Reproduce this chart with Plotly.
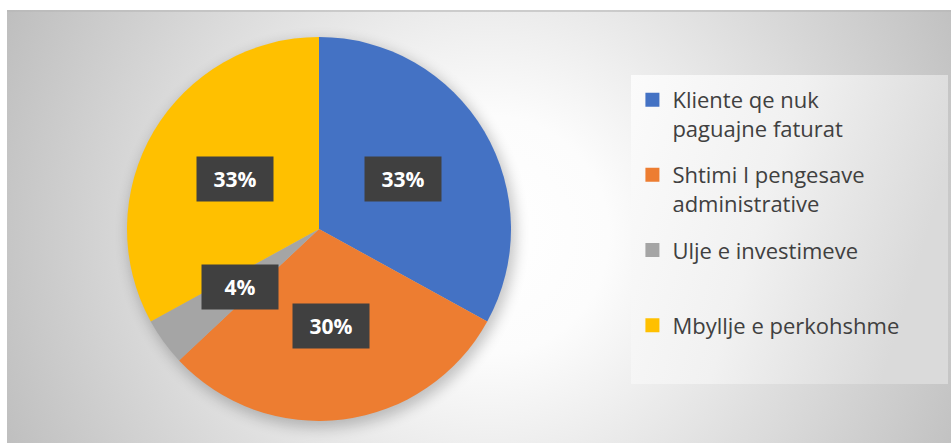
import base64
import math
import plotly.graph_objects as go

# ---- data ----
categories = [
    "Kliente qe nuk<br>paguajne faturat",
    "Shtimi I pengesave<br>administrative",
    "Ulje e investimeve<br> ",
    "Mbyllje e perkohshme",
]
values = [33, 30, 4, 33]
colors = ["#4472C4", "#ED7D31", "#A5A5A5", "#FFC000"]

# ---- geometry ----
W, H = 951, 443
cx_px, cy_px, R_px = 319, 229, 192
dom_x = [(cx_px - R_px) / W, (cx_px + R_px) / W]
dom_y = [1 - (cy_px + R_px) / H, 1 - (cy_px - R_px) / H]

# ---- background (radial gradient panel, legend box, pie shadow) ----
svg = f"""<svg xmlns='http://www.w3.org/2000/svg' width='{W}' height='{H}' viewBox='0 0 {W} {H}'>
<defs>
<radialGradient id='bg' gradientUnits='userSpaceOnUse' cx='490' cy='235' r='540'>
<stop offset='0' stop-color='#ffffff'/>
<stop offset='0.22' stop-color='#fcfcfc'/>
<stop offset='1' stop-color='#bdbdbd'/>
</radialGradient>
<linearGradient id='lg' x1='0' y1='0' x2='1' y2='0.3'>
<stop offset='0' stop-color='#fbfbfb'/>
<stop offset='0.5' stop-color='#f1f1f1'/>
<stop offset='1' stop-color='#dadada'/>
</linearGradient>
<filter id='blur' x='-20%' y='-20%' width='140%' height='140%'><feGaussianBlur stdDeviation='7'/></filter>
</defs>
<rect x='0' y='0' width='{W}' height='{H}' fill='#ffffff'/>
<rect x='7' y='10' width='{W-7}' height='{H-10}' fill='url(#bg)'/>
<rect x='7' y='10' width='{W-7}' height='2' fill='#b8b8b8' opacity='0.6'/>
<circle cx='{cx_px+3}' cy='{cy_px+5}' r='{R_px+2}' fill='#000000' opacity='0.22' filter='url(#blur)'/>
<rect x='631' y='75' width='317' height='309' fill='url(#lg)'/>
</svg>"""
bg_uri = "data:image/svg+xml;base64," + base64.b64encode(svg.encode()).decode()

fig = go.Figure()
fig.add_trace(go.Pie(
    labels=categories,
    values=values,
    sort=False,
    direction="clockwise",
    rotation=0,
    marker=dict(colors=colors, line=dict(width=0)),
    textinfo="none",
    hoverinfo="label+percent",
    domain=dict(x=dom_x, y=dom_y),
    showlegend=False,
))

# legend entries (one group per category so the item spacing can be set)
for i, (name, col) in enumerate(zip(categories, colors)):
    fig.add_trace(go.Scatter(
        x=[None], y=[None], mode="markers", name=name,
        marker=dict(symbol="square", size=14, color=col),
        legendgroup=f"g{i}", showlegend=True, hoverinfo="skip",
    ))

# ---- data labels (dark boxes), positioned from slice mid-angles ----
total = sum(values)
cum = 0
annotations = []
for v in values:
    mid = (cum + v / 2) / total
    cum += v
    th = 2 * math.pi * mid
    r = 0.51 * R_px
    x_px = cx_px + r * math.sin(th)
    y_px = cy_px - r * math.cos(th)
    annotations.append(dict(
        x=x_px / W, y=1 - y_px / H, xref="paper", yref="paper",
        xanchor="center", yanchor="middle",
        text=f"<b>{round(100 * v / total)}%</b>", showarrow=False,
        font=dict(family="Open Sans", size=21, color="#ffffff"),
        bgcolor="#404040", width=74, height=42, align="center", valign="middle",
    ))

fig.update_layout(
    width=W, height=H,
    margin=dict(l=0, r=0, t=0, b=0),
    paper_bgcolor="#ffffff",
    plot_bgcolor="rgba(0,0,0,0)",
    xaxis=dict(visible=False),
    yaxis=dict(visible=False),
    images=[dict(source=bg_uri, xref="paper", yref="paper", x=0, y=1,
                 sizex=1, sizey=1, xanchor="left", yanchor="top",
                 sizing="stretch", layer="below")],
    annotations=annotations,
    showlegend=True,
    legend=dict(
        x=0.665, y=0.822, xanchor="left", yanchor="top",
        bgcolor="rgba(0,0,0,0)",
        font=dict(family="Open Sans", size=22, color="#404040"),
        valign="top",
        traceorder="grouped",
        tracegroupgap=15,
    ),
)

fig.write_html("out.html", config={"displayModeBar": False},
               post_script="document.body.style.margin='0';")
